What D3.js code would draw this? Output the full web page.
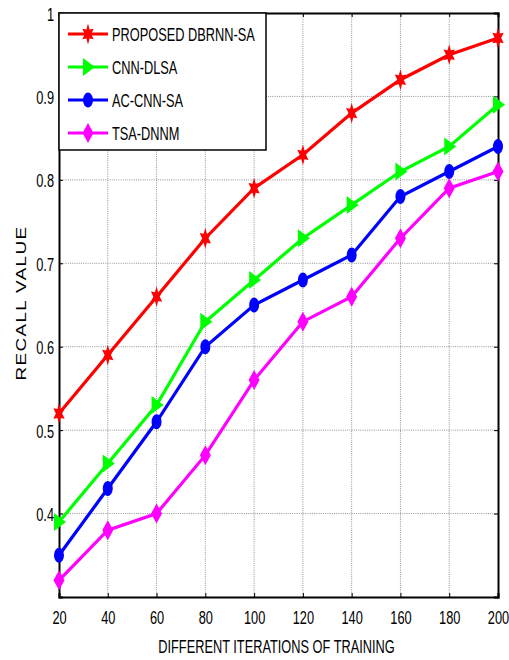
<!DOCTYPE html>
<html>
<head>
<meta charset="utf-8">
<script src="https://cdn.jsdelivr.net/npm/d3@7"></script>
<style>
body { margin: 0; background: #fff; }
svg text { font-family: "Liberation Sans", Arial, sans-serif; fill: #000; }
</style>
</head>
<body>
<svg></svg>
<script>
// chart data
const iterations = [20, 40, 60, 80, 100, 120, 140, 160, 180, 200]
const proposed = [0.52, 0.59, 0.66, 0.73, 0.79, 0.83, 0.88, 0.92, 0.95, 0.97]
const cnnDlsa = [0.39, 0.46, 0.53, 0.63, 0.68, 0.73, 0.77, 0.81, 0.84, 0.89]
const acCnnSa = [0.35, 0.43, 0.51, 0.60, 0.65, 0.68, 0.71, 0.78, 0.81, 0.84]
const tsaDnnm = [0.32, 0.38, 0.40, 0.47, 0.56, 0.63, 0.66, 0.73, 0.79, 0.81]
const yTicks = [0.4, 0.5, 0.6, 0.7, 0.8, 0.9, 1]

const series = [
    {name: "PROPOSED DBRNN-SA", values: proposed, color: "#ff0000", marker: "star"},
    {name: "CNN-DLSA", values: cnnDlsa, color: "#00ff00", marker: "tri"},
    {name: "AC-CNN-SA", values: acCnnSa, color: "#0000ff", marker: "circle"},
    {name: "TSA-DNNM", values: tsaDnnm, color: "#ff00ff", marker: "diamond"}
]

const svg = d3.select("svg")
    .attr("width", 509)
    .attr("height", 660)

const pLeft = 59, pRight = 498, pTop = 13, pBottom = 597
// narrow, tall lettering like the original figure
const sx = 0.8, sy = 1.2

const x = d3.scaleLinear().domain([20, 200]).range([pLeft, pRight])
const y = d3.scaleLinear().domain([0.3, 1]).range([pBottom, pTop])

// grid
svg.append("g")
    .selectAll("line")
    .data(iterations.slice(1, -1))
    .enter().append("line")
    .attr("x1", d => x(d)).attr("x2", d => x(d))
    .attr("y1", pTop).attr("y2", pBottom)
    .attr("stroke", "#666").attr("stroke-width", 0.7)
    .attr("stroke-dasharray", "1,1.2")

svg.append("g")
    .selectAll("line")
    .data(yTicks.slice(0, -1))
    .enter().append("line")
    .attr("x1", pLeft).attr("x2", pRight)
    .attr("y1", d => y(d)).attr("y2", d => y(d))
    .attr("stroke", "#666").attr("stroke-width", 0.7)
    .attr("stroke-dasharray", "1,1.2")

// axes
const xAxis = svg.append("g")
    .attr("transform", `translate(0,${pBottom})`)
    .call(d3.axisBottom(x).tickValues(iterations).tickSize(-4))
const yAxis = svg.append("g")
    .attr("transform", `translate(${pLeft},0)`)
    .call(d3.axisLeft(y).tickValues(yTicks).tickSize(-4).tickFormat(d3.format("")))
svg.append("g")
    .attr("transform", `translate(0,${pTop})`)
    .call(d3.axisTop(x).tickValues(iterations).tickSize(-4).tickFormat(""))
svg.append("g")
    .attr("transform", `translate(${pRight},0)`)
    .call(d3.axisRight(y).tickValues(yTicks).tickSize(-4).tickFormat(""))

svg.selectAll(".domain").attr("stroke", "#000").attr("stroke-width", 2)
svg.selectAll(".tick line").attr("stroke", "#000")

xAxis.selectAll(".tick text")
    .attr("x", 0).attr("y", 0).attr("dy", null)
    .attr("font-size", 16)
    .attr("font-family", null)
    .attr("transform", `translate(0,27) scale(${sx},${sy})`)
yAxis.selectAll(".tick text")
    .attr("x", 0).attr("y", 0).attr("dy", null)
    .attr("font-size", 16)
    .attr("font-family", null)
    .attr("transform", `translate(-5,7) scale(${sx},${sy})`)

// axis labels
svg.append("text")
    .attr("transform", `translate(${(pLeft + pRight) / 2 - 2},653) scale(${sx},${sy})`)
    .attr("text-anchor", "middle")
    .attr("font-size", 16)
    .text("DIFFERENT ITERATIONS OF TRAINING")

// y label is stretched along its length in the original
svg.append("text")
    .attr("transform", `translate(26,${(pTop + pBottom) / 2 - 2}) rotate(-90) scale(1.35,1)`)
    .attr("text-anchor", "middle")
    .attr("font-size", 14)
    .attr("letter-spacing", 1)
    .text("RECALL VALUE")

// markers
const drawMarker = function(g, type, color) {
    if (type === "star") {
        const pts = d3.range(12).map(k => {
            const a = (-90 + k * 30) * Math.PI / 180
            const r = k % 2 === 0 ? 6.5 : 3.2
            return [r * Math.cos(a), r * Math.sin(a) * 1.6]
        })
        g.append("path")
            .attr("d", d3.line()(pts) + "Z")
            .attr("fill", color)
    } else if (type === "tri") {
        g.append("path")
            .attr("d", "M-5,-9 L7,0 L-5,9 Z")
            .attr("fill", color)
    } else if (type === "circle") {
        g.append("ellipse").attr("rx", 5).attr("ry", 7.5).attr("fill", color)
    } else {
        g.append("path")
            .attr("d", "M0,-10 L5.5,0 L0,10 L-5.5,0 Z")
            .attr("fill", color)
    }
}

const line = d3.line()
    .x((d, i) => x(iterations[i]))
    .y(d => y(d))

series.forEach(s => {
    svg.append("path")
        .datum(s.values)
        .attr("d", line)
        .attr("fill", "none")
        .attr("stroke", s.color)
        .attr("stroke-width", 3.2)
    svg.append("g")
        .selectAll("g")
        .data(s.values)
        .enter().append("g")
        .attr("transform", (d, i) => `translate(${x(iterations[i])},${y(d)})`)
        .each(function() { drawMarker(d3.select(this), s.marker, s.color) })
})

// legend
const legend = svg.append("g")
legend.append("rect")
    .attr("x", pLeft).attr("y", pTop)
    .attr("width", 207).attr("height", 137)
    .attr("fill", "#fff").attr("stroke", "#000").attr("stroke-width", 1.5)

series.forEach((s, i) => {
    const ly = 34 + i * 33
    legend.append("line")
        .attr("x1", 68).attr("x2", 108)
        .attr("y1", ly).attr("y2", ly)
        .attr("stroke", s.color).attr("stroke-width", 3.2)
    const m = legend.append("g").attr("transform", `translate(88,${ly})`)
    drawMarker(m, s.marker, s.color)
    legend.append("text")
        .attr("transform", `translate(112,${ly + 7}) scale(${sx},${sy})`)
        .attr("font-size", 16)
        .text(s.name)
})
</script>
</body>
</html>
